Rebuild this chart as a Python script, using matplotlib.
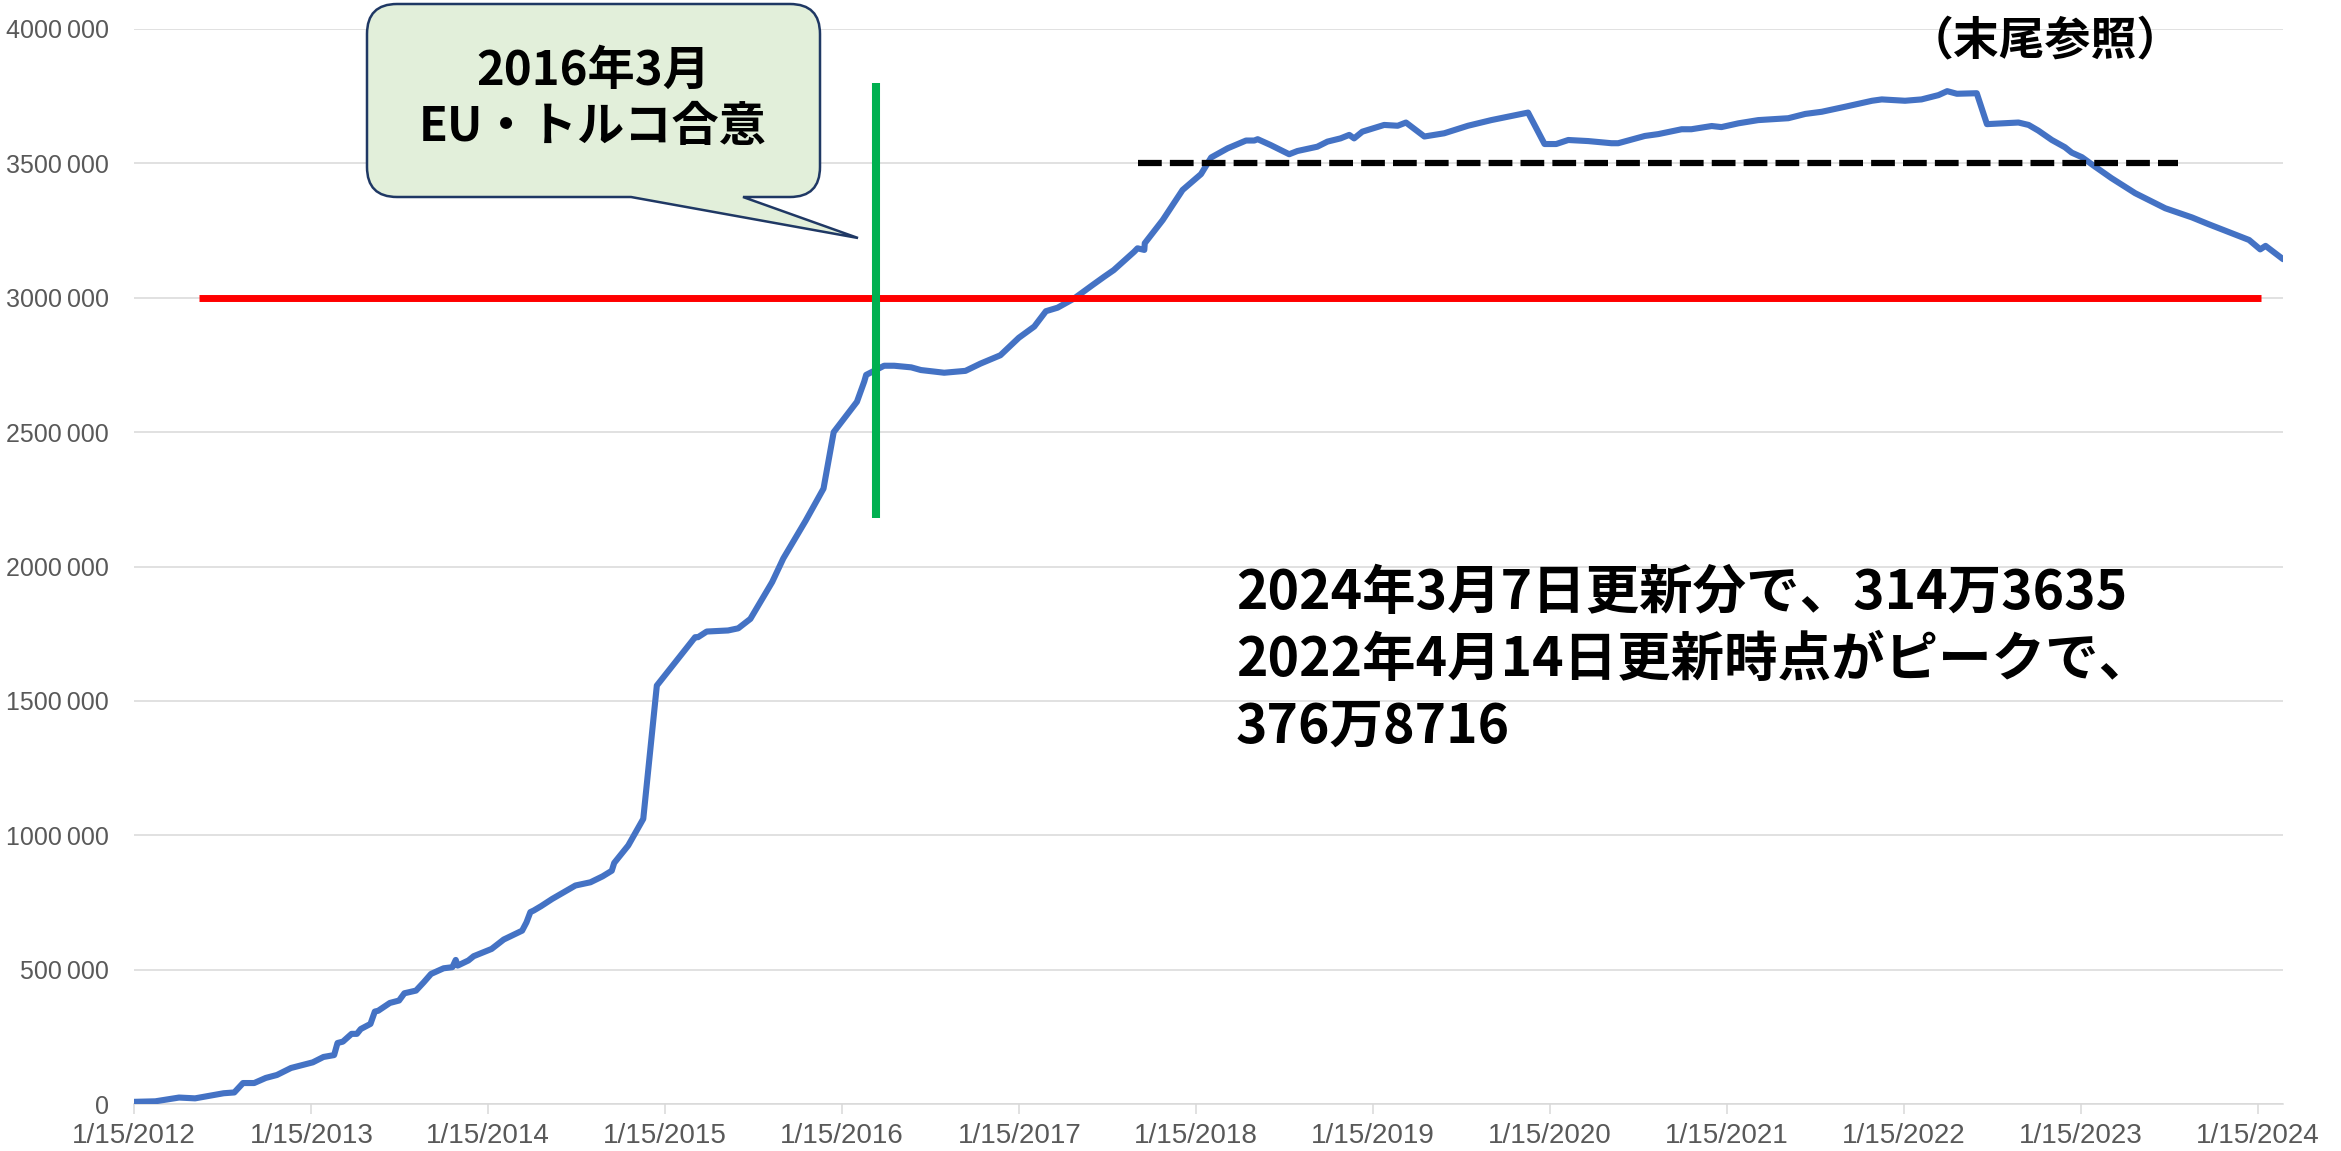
import matplotlib
matplotlib.use("Agg")
import matplotlib.pyplot as plt
import matplotlib.transforms as mtrans
from matplotlib.path import Path
from matplotlib.patches import PathPatch
import pandas as pd

# ---------------- data ----------------
dates = [
    "2012-01-15", "2012-02-28", "2012-04-17", "2012-05-20", "2012-06-11", "2012-07-18",
    "2012-08-09", "2012-08-27", "2012-09-19", "2012-10-13", "2012-11-05", "2012-12-04",
    "2013-01-18", "2013-02-09", "2013-03-03", "2013-03-10", "2013-03-21", "2013-04-08",
    "2013-04-19", "2013-04-27", "2013-05-17", "2013-05-26", "2013-06-02", "2013-06-26",
    "2013-07-15", "2013-07-26", "2013-08-19", "2013-09-04", "2013-09-19", "2013-10-15",
    "2013-11-02", "2013-11-09", "2013-11-13", "2013-12-05", "2013-12-16", "2014-01-22",
    "2014-02-16", "2014-03-26", "2014-04-04", "2014-04-12", "2014-04-19", "2014-05-04",
    "2014-05-27", "2014-06-20", "2014-07-14", "2014-08-14", "2014-09-08", "2014-09-27",
    "2014-10-02", "2014-10-31", "2014-12-01", "2014-12-29", "2015-03-18", "2015-03-24",
    "2015-04-11", "2015-05-25", "2015-06-15", "2015-07-10", "2015-08-24", "2015-09-16",
    "2015-11-01", "2015-12-08", "2015-12-29", "2016-02-15", "2016-03-01", "2016-03-05",
    "2016-04-11", "2016-05-02", "2016-06-06", "2016-06-26", "2016-08-13", "2016-09-26",
    "2016-10-27", "2016-12-07", "2017-01-14", "2017-02-15", "2017-03-11", "2017-04-04",
    "2017-05-08", "2017-06-15", "2017-07-09", "2017-07-29", "2017-09-09", "2017-09-16",
    "2017-09-30", "2017-10-01", "2017-11-07", "2017-12-18", "2018-01-25", "2018-02-15",
    "2018-03-21", "2018-04-28", "2018-05-15", "2018-05-22", "2018-06-18", "2018-07-26",
    "2018-08-12", "2018-09-22", "2018-10-13", "2018-11-09", "2018-11-27", "2018-12-07",
    "2018-12-24", "2019-02-07", "2019-03-07", "2019-03-24", "2019-05-01", "2019-06-11",
    "2019-07-30", "2019-09-16", "2019-12-01", "2020-01-04", "2020-01-28", "2020-02-22",
    "2020-04-03", "2020-05-21", "2020-06-04", "2020-07-29", "2020-08-26", "2020-10-13",
    "2020-11-02", "2020-12-14", "2021-01-03", "2021-02-07", "2021-03-20", "2021-05-21",
    "2021-06-25", "2021-07-29", "2021-09-16", "2021-11-10", "2021-11-30", "2022-01-17",
    "2022-02-20", "2022-03-27", "2022-04-14", "2022-05-04", "2022-06-14", "2022-07-05",
    "2022-09-08", "2022-09-29", "2022-10-19", "2022-11-16", "2022-12-13", "2022-12-27",
    "2023-01-17", "2023-02-13", "2023-03-19", "2023-05-07", "2023-07-08", "2023-09-01",
    "2023-10-05", "2023-12-28", "2024-01-20", "2024-01-31", "2024-03-07",
]
values = [
    8000, 10000, 24000, 21000, 28000, 40000,
    43000, 78000, 78000, 97000, 108000, 134000,
    155000, 175000, 182000, 227000, 232000, 261000,
    261000, 279000, 298000, 344000, 347000, 376000,
    385000, 412000, 422000, 453000, 484000, 505000,
    509000, 536000, 515000, 534000, 550000, 577000,
    612000, 645000, 676000, 714000, 720000, 736000,
    763000, 788000, 813000, 825000, 847000, 868000,
    897000, 962000, 1061000, 1557000, 1737000, 1737000,
    1758000, 1762000, 1770000, 1805000, 1942000, 2030000,
    2170000, 2290000, 2500000, 2613000, 2688000, 2713000,
    2747000, 2747000, 2741000, 2731000, 2721000, 2728000,
    2755000, 2786000, 2851000, 2893000, 2950000, 2963000,
    2997000, 3047000, 3078000, 3103000, 3171000, 3184000,
    3178000, 3203000, 3289000, 3401000, 3460000, 3522000,
    3556000, 3585000, 3585000, 3590000, 3568000, 3534000,
    3546000, 3562000, 3581000, 3593000, 3606000, 3593000,
    3618000, 3643000, 3640000, 3652000, 3600000, 3612000,
    3640000, 3661000, 3689000, 3572000, 3572000, 3587000,
    3583000, 3575000, 3575000, 3602000, 3609000, 3627000,
    3627000, 3639000, 3635000, 3649000, 3661000, 3668000,
    3684000, 3692000, 3711000, 3733000, 3738000, 3733000,
    3738000, 3754000, 3768716, 3759000, 3761000, 3646000,
    3652000, 3643000, 3622000, 3587000, 3560000, 3540000,
    3523000, 3488000, 3445000, 3389000, 3333000, 3299000,
    3274000, 3215000, 3180000, 3193000, 3143635,
]
x_tick_dates = [f"{y}-01-15" for y in range(2012, 2025)]
x_tick_labels = [f"1/15/{y}" for y in range(2012, 2025)]
y_ticks = [0, 500000, 1000000, 1500000, 2000000, 2500000, 3000000, 3500000, 4000000]
y_tick_labels = ["0", "500\u2009000", "1000\u2009000", "1500\u2009000", "2000\u2009000",
                 "2500\u2009000", "3000\u2009000", "3500\u2009000", "4000\u2009000"]

red_line = (["2012-05-28", "2024-01-22"], 3000000)
dash_line = (["2017-09-18", "2023-08-04"], 3500000)
green_line = ("2016-03-25", [2180000, 3800000])

callout_lines = ["2016年3月", "EU・トルコ合意"]
note_lines = ["2024年3月7日更新分で、314万3635",
              "2022年4月14日更新時点がピークで、",
              "376万8716"]
top_note = "（末尾参照）"

# ---------------- figure ----------------
W, H = 2341, 1151
fig = plt.figure(figsize=(W / 100, H / 100), dpi=100)
fig.patch.set_facecolor("white")
ax_l, ax_r, ax_t, ax_b = 134, 2283, 29, 1104
ax = fig.add_axes([ax_l / W, 1 - ax_b / H, (ax_r - ax_l) / W, (ax_b - ax_t) / H])

dt = pd.to_datetime(dates)
ax.plot(dt, values, color="#4472C4", lw=4.4, solid_joinstyle="round",
        solid_capstyle="round", zorder=3)

ax.set_xlim(pd.Timestamp(dates[0]), pd.Timestamp(dates[-1]))
ax.set_ylim(0, 4000000)
ax.set_xticks(pd.to_datetime(x_tick_dates))
ax.set_xticklabels(x_tick_labels)
ax.set_yticks(y_ticks)
ax.set_yticklabels(y_tick_labels)

ax.yaxis.grid(True, color="#D9D9D9", lw=1.1)
ax.set_axisbelow(True)
for s in ["top", "right", "left"]:
    ax.spines[s].set_visible(False)
ax.spines["bottom"].set_color("#D9D9D9")
ax.spines["bottom"].set_linewidth(1.1)
ax.tick_params(axis="y", length=0, pad=18, labelsize=18, labelcolor="#595959")
ax.tick_params(axis="x", length=7, width=1.1, color="#D9D9D9", pad=7,
               labelsize=20, labelcolor="#595959")
for lbl in ax.get_yticklabels():
    lbl.set_family(["Liberation Sans", "DejaVu Sans"])
for lbl in ax.get_xticklabels():
    lbl.set_family(["Liberation Sans Narrow", "Liberation Sans", "DejaVu Sans"])

# reference lines
ax.plot(pd.to_datetime(red_line[0]), [red_line[1]] * 2, color="#FF0000", lw=5,
        solid_capstyle="butt", zorder=4)
ax.plot(pd.to_datetime(dash_line[0]), [dash_line[1]] * 2, color="black", lw=4.5,
        linestyle=(0, (3.8, 1.3)), dash_capstyle="butt", zorder=4)
ax.plot(pd.to_datetime([green_line[0]] * 2), green_line[1], color="#00B050", lw=5.8,
        solid_capstyle="butt", zorder=5, clip_on=False)

# ---------------- annotations (figure pixel coords, y down) ----------------
T = mtrans.Affine2D().scale(1 / W, -1 / H).translate(0, 1) + fig.transFigure

L, R, Tp, B, r = 367, 820, 4, 197, 30
x1, x2, tip = 631, 743, (858, 238)
verts = [
    (L + r, Tp), (R - r, Tp), (R, Tp), (R, Tp + r), (R, B - r), (R, B), (R - r, B),
    (x2, B), tip, (x1, B), (L + r, B), (L, B), (L, B - r), (L, Tp + r), (L, Tp),
    (L + r, Tp), (L + r, Tp),
]
codes = [
    Path.MOVETO, Path.LINETO, Path.CURVE3, Path.CURVE3, Path.LINETO, Path.CURVE3,
    Path.CURVE3, Path.LINETO, Path.LINETO, Path.LINETO, Path.LINETO, Path.CURVE3,
    Path.CURVE3, Path.LINETO, Path.CURVE3, Path.CURVE3, Path.CLOSEPOLY,
]
fig.add_artist(PathPatch(Path(verts, codes), transform=T, facecolor="#E2EFDA",
                         edgecolor="#1F3864", lw=1.8, zorder=6))

cjk = ["Noto Sans CJK JP", "DejaVu Sans"]
for txt, cy in zip(callout_lines, [71, 127]):
    fig.text(593 / W, 1 - cy / H, txt, ha="center", va="center", fontsize=34,
             fontweight="bold", family=cjk, color="black", zorder=7)

for txt, cy in zip(note_lines, [594, 660, 727]):
    fig.text(1236 / W, 1 - cy / H, txt, ha="left", va="center", fontsize=38.5,
             fontweight="bold", family=cjk, color="black", zorder=7)

fig.text(2045 / W, 1 - 41 / H, top_note, ha="center", va="center", fontsize=33,
         fontweight="bold", family=cjk, color="black", zorder=7)

fig.savefig("out.png", dpi=100)
